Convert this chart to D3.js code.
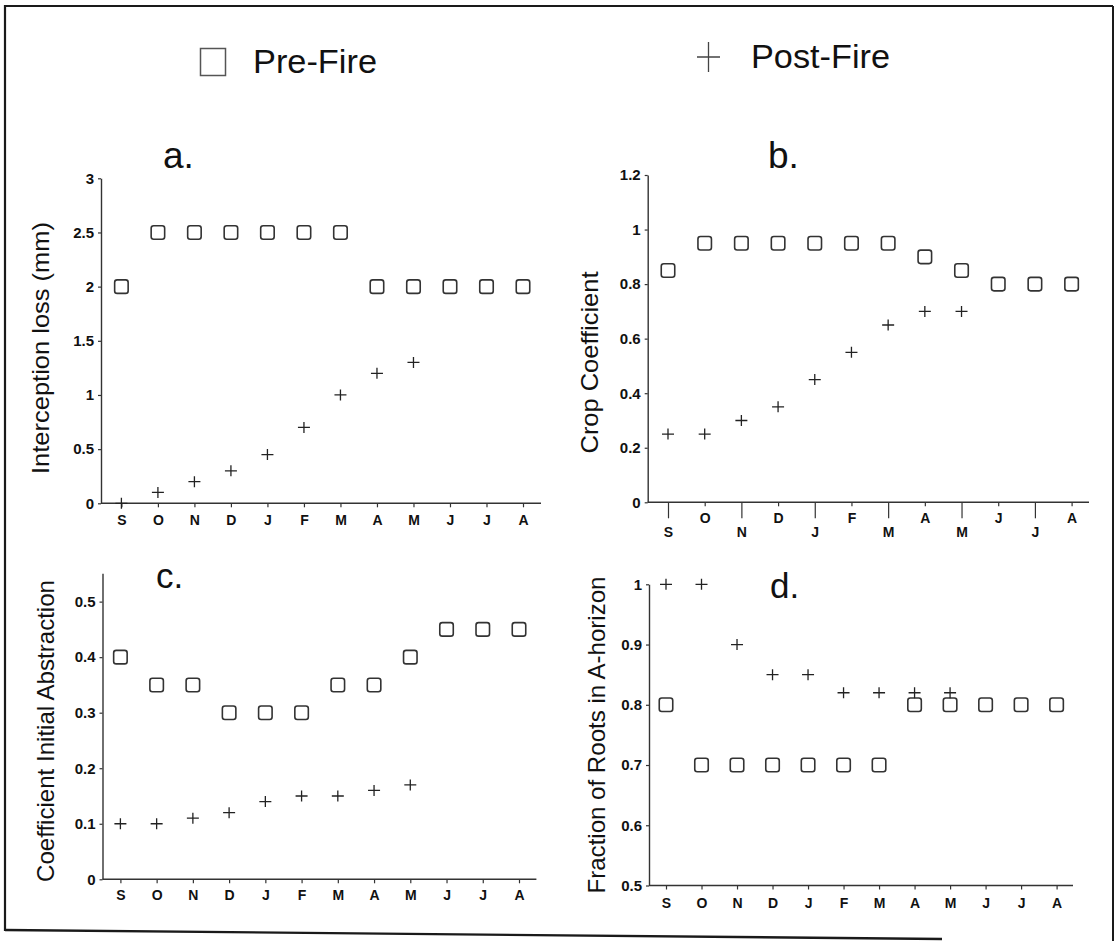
<!DOCTYPE html>
<html>
<head>
<meta charset="utf-8">
<script src="https://cdn.jsdelivr.net/npm/d3@7"></script>
<style>
  html, body { margin: 0; padding: 0; background: #fff; }
  svg { display: block; font-family: "Liberation Sans", Arial, Helvetica, sans-serif; }
</style>
</head>
<body>
<svg id="chart" width="1119" height="941"></svg>
<script>
// ---------- data ----------
const months = ["S","O","N","D","J","F","M","A","M","J","J","A"];

const interceptionPre  = [2, 2.5, 2.5, 2.5, 2.5, 2.5, 2.5, 2, 2, 2, 2, 2];
const interceptionPost = [0, 0.1, 0.2, 0.3, 0.45, 0.7, 1.0, 1.2, 1.3, null, null, null];

const cropPre  = [0.85, 0.95, 0.95, 0.95, 0.95, 0.95, 0.95, 0.9, 0.85, 0.8, 0.8, 0.8];
const cropPost = [0.25, 0.25, 0.3, 0.35, 0.45, 0.55, 0.65, 0.7, 0.7, null, null, null];

const abstractionPre  = [0.4, 0.35, 0.35, 0.3, 0.3, 0.3, 0.35, 0.35, 0.4, 0.45, 0.45, 0.45];
const abstractionPost = [0.1, 0.1, 0.11, 0.12, 0.14, 0.15, 0.15, 0.16, 0.17, null, null, null];

const rootsPre  = [0.8, 0.7, 0.7, 0.7, 0.7, 0.7, 0.7, 0.8, 0.8, 0.8, 0.8, 0.8];
const rootsPost = [1.0, 1.0, 0.9, 0.85, 0.85, 0.82, 0.82, 0.82, 0.82, null, null, null];

const ticksA = [0, 0.5, 1, 1.5, 2, 2.5, 3];
const ticksB = [0, 0.2, 0.4, 0.6, 0.8, 1, 1.2];
const ticksC = [0, 0.1, 0.2, 0.3, 0.4, 0.5];
const ticksD = [0.5, 0.6, 0.7, 0.8, 0.9, 1];

const legendLabels = ["Pre-Fire", "Post-Fire"];

// ---------- layout ----------
const svg = d3.select("#chart");
const ink = "#222";

// scan frame
const frame = svg.append("g").attr("stroke", "#1a1a1a").attr("fill", "none");
frame.append("line").attr("x1", 5).attr("y1", 6).attr("x2", 1113).attr("y2", 6).attr("stroke-width", 2);
frame.append("line").attr("x1", 5).attr("y1", 5).attr("x2", 5).attr("y2", 931).attr("stroke-width", 2.2);
frame.append("line").attr("x1", 1113).attr("y1", 6).attr("x2", 1113).attr("y2", 941).attr("stroke-width", 2);
frame.append("line").attr("x1", 5).attr("y1", 930).attr("x2", 942).attr("y2", 939).attr("stroke-width", 2.4);

// legend
const leg = svg.append("g");
leg.append("rect").attr("x", 200.5).attr("y", 48.5).attr("width", 25).attr("height", 27)
  .attr("fill", "none").attr("stroke", "#555").attr("stroke-width", 1.5);
leg.append("text").attr("x", 253).attr("y", 73).attr("font-size", 34).attr("fill", "#111")
  .attr("textLength", 124).attr("lengthAdjust", "spacingAndGlyphs").text(legendLabels[0]);
leg.append("path").attr("d", "M697,57H720M708.5,42V72")
  .attr("stroke", "#444").attr("stroke-width", 1.3).attr("fill", "none");
leg.append("text").attr("x", 751).attr("y", 68).attr("font-size", 34).attr("fill", "#111")
  .attr("textLength", 139).attr("lengthAdjust", "spacingAndGlyphs").text(legendLabels[1]);

const panels = [
  { pre: interceptionPre, post: interceptionPost, ticks: ticksA, domain: [0, 3],
    xl: 101, xr: 541, xs: 121.4, xe: 523, y0: 503.3, y1: 178.3,
    title: "Interception loss (mm)", titleX: 49, titleY: 348, titleLen: 252,
    letter: "a.", lx: 163, ly: 168, lfs: 37, labPad: 8, stagger: false },
  { pre: cropPre, post: cropPost, ticks: ticksB, domain: [0, 1.2],
    xl: 647.7, xr: 1089, xs: 668, xe: 1071.6, y0: 502.3, y1: 175,
    title: "Crop Coefficient", titleX: 598, titleY: 362.5, titleLen: 182,
    letter: "b.", lx: 768, ly: 168, lfs: 37, labPad: 7, stagger: true },
  { pre: abstractionPre, post: abstractionPost, ticks: ticksC, domain: [0, 0.551],
    xl: 102.5, xr: 536.4, xs: 120.4, xe: 519, y0: 879.3, y1: 573.3,
    title: "Coefficient Initial Abstraction", titleX: 53.5, titleY: 731, titleLen: 302,
    letter: "c.", lx: 156, ly: 588, lfs: 35, labPad: 7, stagger: false },
  { pre: rootsPre, post: rootsPost, ticks: ticksD, domain: [0.5, 1],
    xl: 649, xr: 1073, xs: 666, xe: 1056.6, y0: 885.5, y1: 584.3,
    title: "Fraction of Roots in A-horizon", titleX: 604.5, titleY: 735, titleLen: 317,
    letter: "d.", lx: 770, ly: 598, lfs: 35, labPad: 9, stagger: false }
];

const fmt = v => d3.format("~g")(v);

panels.forEach(p => {
  const g = svg.append("g");
  const x = d3.scalePoint().domain(d3.range(months.length)).range([p.xs, p.xe]);
  const y = d3.scaleLinear().domain(p.domain).range([p.y0, p.y1]);

  // y axis
  const ya = g.append("g").attr("transform", `translate(${p.xl},0)`)
    .call(d3.axisLeft(y).tickValues(p.ticks).tickFormat(fmt).tickSize(3).tickSizeOuter(0).tickPadding(4));
  ya.select(".domain").attr("stroke", "#333").attr("stroke-width", 1.4);
  ya.selectAll(".tick line").attr("stroke", "#333").attr("stroke-width", 1.2);
  ya.selectAll(".tick text").attr("font-size", 15).attr("font-weight", "bold").attr("fill", "#111")
    .attr("font-family", "'Liberation Sans', Arial, sans-serif");

  // x axis
  const xa = g.append("g").attr("transform", `translate(0,${p.y0})`)
    .call(d3.axisBottom(x).tickFormat(i => months[i]).tickSize(4).tickSizeOuter(0).tickPadding(p.labPad));
  xa.select(".domain").remove();
  xa.append("line").attr("x1", p.xl).attr("x2", p.xr).attr("y1", 0).attr("y2", 0)
    .attr("stroke", "#333").attr("stroke-width", 1.5);
  xa.selectAll(".tick line").attr("stroke", "#333").attr("stroke-width", 1.2);
  xa.selectAll(".tick text").attr("font-size", 14).attr("font-weight", "bold").attr("fill", "#111")
    .attr("font-family", "'Liberation Sans', Arial, sans-serif");
  if (p.stagger) {
    xa.selectAll(".tick").each(function(d) {
      const t = d3.select(this);
      if (d % 2 === 0) {
        t.select("line").attr("y2", 16);
        t.select("text").attr("y", 25);
      } else {
        t.select("text").attr("y", 11);
      }
    });
  }

  // axis title
  g.append("text")
    .attr("transform", `translate(${p.titleX},${p.titleY}) rotate(-90)`)
    .attr("text-anchor", "middle").attr("font-size", 24).attr("fill", "#111")
    .attr("textLength", p.titleLen).attr("lengthAdjust", "spacingAndGlyphs")
    .text(p.title);

  // panel letter
  g.append("text").attr("x", p.lx).attr("y", p.ly).attr("font-size", p.lfs).attr("fill", "#111")
    .text(p.letter);

  // pre-fire squares
  const s = 13.5;
  g.append("g").selectAll("rect")
    .data(p.pre.map((v, i) => ({ i, v })).filter(d => d.v !== null))
    .join("rect")
    .attr("x", d => x(d.i) - s / 2).attr("y", d => y(d.v) - s / 2)
    .attr("width", s).attr("height", s).attr("rx", 2.5)
    .attr("fill", "none").attr("stroke", "#333").attr("stroke-width", 1.6);

  // post-fire pluses
  g.append("g").selectAll("path")
    .data(p.post.map((v, i) => ({ i, v })).filter(d => d.v !== null))
    .join("path")
    .attr("d", d => {
      const cx = x(d.i), cy = y(d.v);
      return `M${cx - 6},${cy}H${cx + 6}M${cx},${cy - 5.5}V${cy + 5.5}`;
    })
    .attr("fill", "none").attr("stroke", ink).attr("stroke-width", 1.3);
});
</script>
</body>
</html>
